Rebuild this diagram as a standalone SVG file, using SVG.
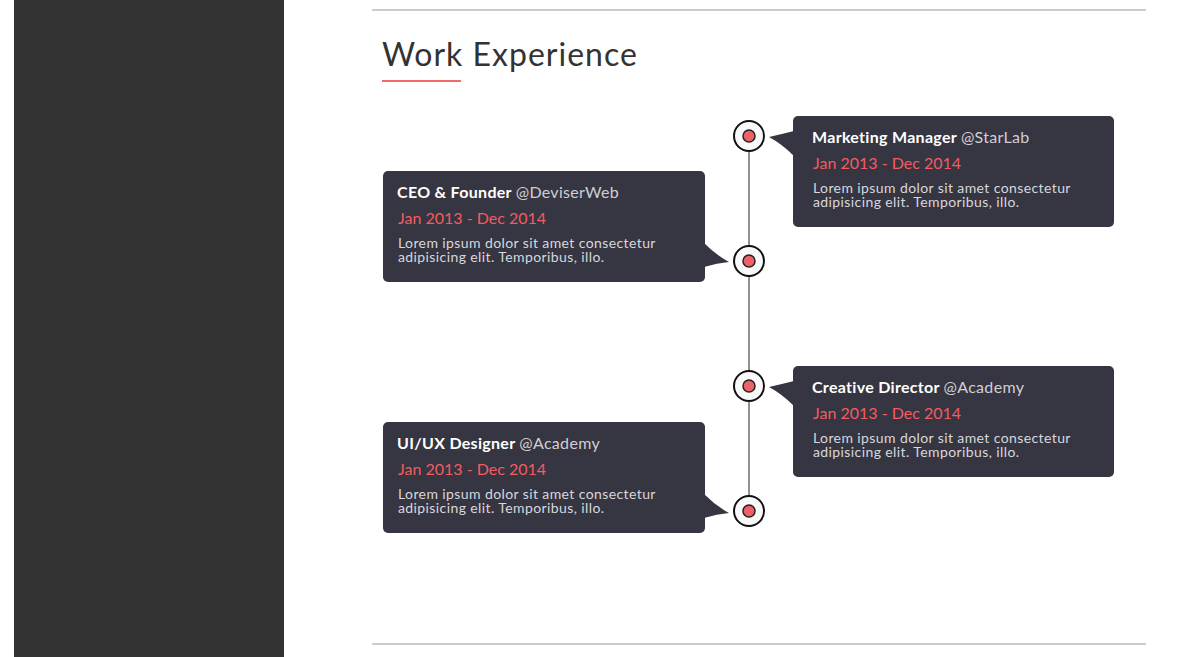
<svg xmlns="http://www.w3.org/2000/svg" width="1178" height="657" viewBox="0 0 1178 657">
  <defs>
    <style>
      .card { fill: #363542; }
      .title { font-family: "Lato", "Open Sans", sans-serif; font-size: 16px; font-weight: 700; fill: #ffffff; letter-spacing: 0.3px; }
      .org { font-weight: 400; fill: #cfcfd4; }
      .date { font-family: "Lato", "Open Sans", sans-serif; font-size: 16px; fill: #f35c60; }
      .desc { font-family: "Lato", "Open Sans", sans-serif; font-size: 14px; fill: #d8d8dc; letter-spacing: 0.4px; }
      .ring { fill: #f9f9f9; stroke: #111111; stroke-width: 2; }
      .dot { fill: #f06068; stroke: #222222; stroke-width: 1.5; }
      .rule { stroke: #cccccc; stroke-width: 2; }
    </style>
  </defs>

  <rect x="0" y="0" width="1178" height="657" fill="#ffffff"/>
  <!-- sidebar -->
  <rect x="14" y="0" width="270" height="657" fill="#333333"/>

  <!-- section rules -->
  <line class="rule" x1="372" y1="10" x2="1146" y2="10"/>
  <line class="rule" x1="372" y1="644" x2="1146" y2="644"/>

  <!-- heading -->
  <text x="382" y="66" font-family="Lato, 'Open Sans', sans-serif" font-size="32" letter-spacing="1" fill="#333333">Work Experience</text>
  <rect x="382" y="80" width="79" height="2" fill="#f06b6b"/>

  <!-- timeline spine -->
  <g id="connectors">
    <line x1="749" y1="136" x2="749" y2="511" stroke="#222222" stroke-width="1"/>
  </g>

  <g id="item1">
    <rect class="card" x="793" y="116" width="321" height="111" rx="5"/>
    <path class="card" d="M769,137 Q782,134 794,131 L794,156 Q782,144 769,137 Z"/>
    <text class="title" x="812" y="143">Marketing Manager <tspan class="org">@StarLab</tspan></text>
    <text class="date" x="813" y="169">Jan 2013 - Dec 2014</text>
    <text class="desc" x="813" y="193">Lorem ipsum dolor sit amet consectetur</text>
    <text class="desc" x="813" y="207">adipisicing elit. Temporibus, illo.</text>
    <circle class="ring" cx="749" cy="136" r="15"/>
    <circle class="dot" cx="749" cy="136" r="6"/>
  </g>

  <g id="item2">
    <rect class="card" x="383" y="171" width="322" height="111" rx="5"/>
    <path class="card" d="M729,262 Q717,263 704,267 L704,243 Q716,255 729,262 Z"/>
    <text class="title" x="397" y="198">CEO &amp; Founder <tspan class="org">@DeviserWeb</tspan></text>
    <text class="date" x="398" y="224">Jan 2013 - Dec 2014</text>
    <text class="desc" x="398" y="248">Lorem ipsum dolor sit amet consectetur</text>
    <text class="desc" x="398" y="262">adipisicing elit. Temporibus, illo.</text>
    <circle class="ring" cx="749" cy="261" r="15"/>
    <circle class="dot" cx="749" cy="261" r="6"/>
  </g>

  <g id="item3">
    <rect class="card" x="793" y="366" width="321" height="111" rx="5"/>
    <path class="card" d="M769,387 Q782,384 794,381 L794,406 Q782,394 769,387 Z"/>
    <text class="title" x="812" y="393">Creative Director <tspan class="org">@Academy</tspan></text>
    <text class="date" x="813" y="419">Jan 2013 - Dec 2014</text>
    <text class="desc" x="813" y="443">Lorem ipsum dolor sit amet consectetur</text>
    <text class="desc" x="813" y="457">adipisicing elit. Temporibus, illo.</text>
    <circle class="ring" cx="749" cy="386" r="15"/>
    <circle class="dot" cx="749" cy="386" r="6"/>
  </g>

  <g id="item4">
    <rect class="card" x="383" y="422" width="322" height="111" rx="5"/>
    <path class="card" d="M729,513 Q717,514 704,518 L704,494 Q716,506 729,513 Z"/>
    <text class="title" x="397" y="449">UI/UX Designer <tspan class="org">@Academy</tspan></text>
    <text class="date" x="398" y="475">Jan 2013 - Dec 2014</text>
    <text class="desc" x="398" y="499">Lorem ipsum dolor sit amet consectetur</text>
    <text class="desc" x="398" y="513">adipisicing elit. Temporibus, illo.</text>
    <circle class="ring" cx="749" cy="511" r="15"/>
    <circle class="dot" cx="749" cy="511" r="6"/>
  </g>
</svg>
